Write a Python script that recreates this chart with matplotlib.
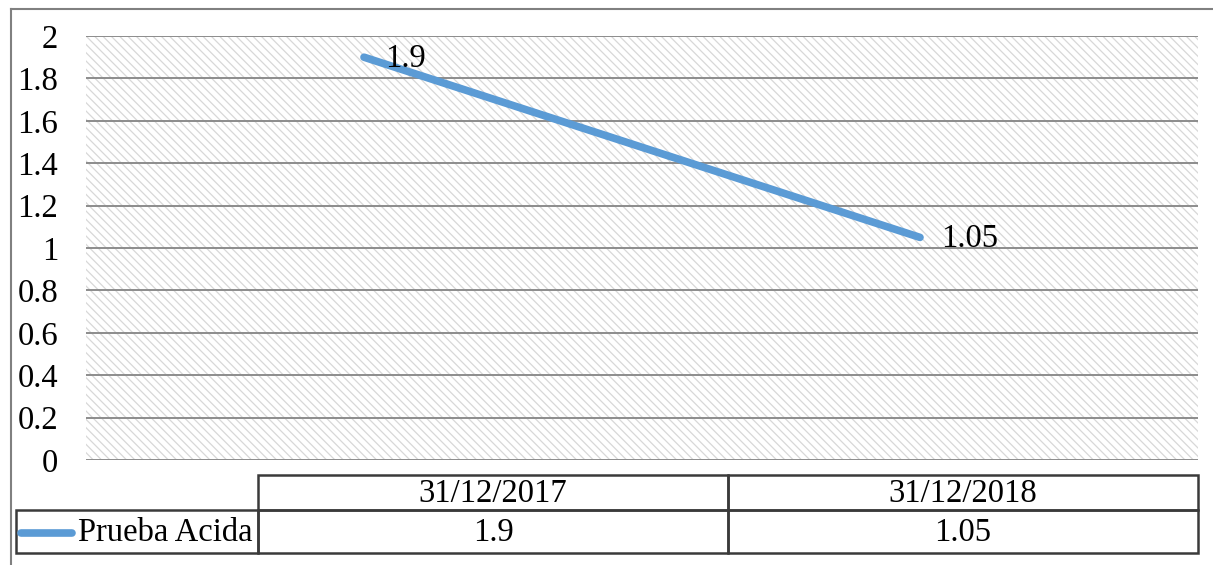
import matplotlib.pyplot as plt
from matplotlib.lines import Line2D
from matplotlib.patches import Rectangle

plt.rcParams["font.family"] = ["Liberation Serif", "DejaVu Serif"]
plt.rcParams["hatch.linewidth"] = 0.9

categories = ["31/12/2017", "31/12/2018"]
series_name = "Prueba Acida"
values = [1.9, 1.05]
value_labels = ["1.9", "1.05"]
y_ticks = [0, 0.2, 0.4, 0.6, 0.8, 1, 1.2, 1.4, 1.6, 1.8, 2]
y_tick_labels = ["0", "0.2", "0.4", "0.6", "0.8", "1", "1.2", "1.4", "1.6", "1.8", "2"]

W, H = 1213, 565
LINE_COLOR = "#5b9bd5"
FS = 23.5


def fx(px):
    return px / W


def fy(py):
    return 1 - py / H


fig = plt.figure(figsize=(W / 100, H / 100), dpi=100)

# plot area
ax = fig.add_axes([fx(86), fy(460), fx(1198) - fx(86), (460 - 36) / H])
ax.set_xlim(-0.5, len(categories) - 0.5)
ax.set_ylim(0, 2)
ax.add_patch(Rectangle((0, 0), 1, 1, transform=ax.transAxes, facecolor="white",
                       edgecolor="#d8d8d8", linewidth=0, hatch="\\\\\\\\", zorder=0.5))
for s in ax.spines.values():
    s.set_visible(False)
ax.set_yticks(y_ticks)
ax.set_yticklabels(y_tick_labels, fontsize=FS)
ax.set_xticks([])
ax.tick_params(axis="y", length=0, pad=20)
ax.grid(axis="y", color="#8c8c8c", linewidth=1.4, zorder=1)
ax.set_axisbelow(False)

xs = list(range(len(categories)))
ax.plot(xs, values, color=LINE_COLOR, linewidth=5.5, solid_capstyle="round", zorder=3)
for x, v, lab in zip(xs, values, value_labels):
    ax.annotate(lab, (x, v), xytext=(15, -1), textcoords="offset points",
                ha="left", va="center", fontsize=FS, zorder=4)

# outer chart border
border = "#808080"
fig.add_artist(Line2D([fx(11), 1], [fy(9), fy(9)], color=border, linewidth=1.5))
fig.add_artist(Line2D([fx(11), fx(11)], [fy(9), 0], color=border, linewidth=1.5))

# data table
edge = "#3a3a3a"
col_x = [258, 728, 1198]
row_y = [475, 510, 553]
label_x0 = 16


def cell(x0, y0, x1, y1):
    fig.add_artist(Rectangle((fx(x0), fy(y1)), fx(x1) - fx(x0), fy(y0) - fy(y1),
                             facecolor="none", edgecolor=edge, linewidth=1.8))


for i, cat in enumerate(categories):
    cell(col_x[i], row_y[0], col_x[i + 1], row_y[1])
    fig.text(fx((col_x[i] + col_x[i + 1]) / 2), fy((row_y[0] + row_y[1]) / 2 + 1), cat,
             ha="center", va="center", fontsize=FS)
    cell(col_x[i], row_y[1], col_x[i + 1], row_y[2])
    fig.text(fx((col_x[i] + col_x[i + 1]) / 2), fy((row_y[1] + row_y[2]) / 2 + 1), value_labels[i],
             ha="center", va="center", fontsize=FS)

cell(label_x0, row_y[1], col_x[0], row_y[2])
key_y = fy((row_y[1] + row_y[2]) / 2 + 1)
fig.add_artist(Line2D([fx(21), fx(72)], [key_y, key_y], color=LINE_COLOR,
                      linewidth=5.5, solid_capstyle="round"))
fig.text(fx(78), fy((row_y[1] + row_y[2]) / 2 + 1), series_name,
         ha="left", va="center", fontsize=FS)

fig.savefig("out.png", dpi=100)
